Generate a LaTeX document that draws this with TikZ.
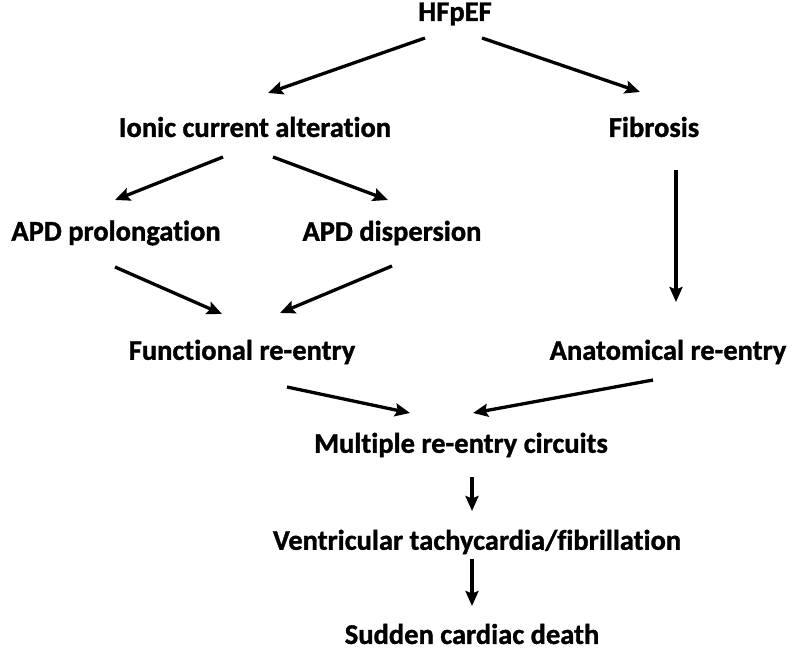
\documentclass[tikz,border=0pt]{standalone}
\usepackage{fontspec}
\setmainfont{Carlito}[RawFeature={-liga;-clig;-calt;-dlig}, BoldFeatures={FakeBold=1.2}]
\usepackage{tikz}
\usetikzlibrary{arrows.meta, calc, positioning}

\tikzset{
  lbl/.style={inner sep=0pt, font=\fontsize{28.5}{32}\selectfont\bfseries},
  arr/.style={line width=3.3pt, -{Stealth[length=15pt,width=13pt,inset=2.5pt]}}
}

\begin{document}
\begin{tikzpicture}[x=1pt, y=-1pt]
\useasboundingbox (0,0) rectangle (800,650);

%//the boxes of text
\foreach \n/\x/\y/\t in {hf/455/14/HFpEF, ionic/255/127/Ionic current alteration,
  fib/654/127/Fibrosis, prol/116/233/APD prolongation, disp/392/233/APD dispersion,
  func/242/352/Functional re-entry, anat/668/352/Anatomical re-entry,
  multi/461/445/Multiple re-entry circuits, vt/477/542/{Ventricular tachycardia/fibrillation},
  scd/472/634/Sudden cardiac death}
\node [lbl] (\n) at (\x,\y) {\t};

%//arrows
\foreach \a/\sa/\b/\sb in {hf/{-30,24}/ionic/{13,-34}, hf/{27,24}/fib/{-14,-35},
  ionic/{-32,30}/prol/{-1,-33}, ionic/{18,30}/disp/{-4,-33},
  fib/{22,43}/anat/{8,-50},
  prol/{-1,34}/func/{-20,-38}, disp/{0,33}/func/{38,-39},
  func/{45,35}/multi/{-51,-32}, anat/{-15,28}/multi/{12,-32},
  multi/{11,32}/vt/{-5,-31}, vt/{-5,17}/scd/{0,-28}}
\draw [arr] ($(\a)+(\sa)$) -- ($(\b)+(\sb)$);

\end{tikzpicture}
\end{document}
